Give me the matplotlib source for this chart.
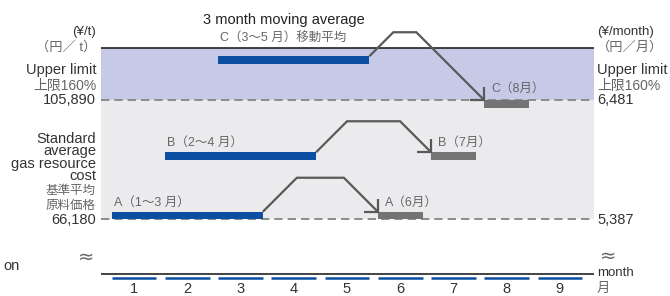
import matplotlib
matplotlib.use("Agg")
import matplotlib.pyplot as plt
import numpy as np

# ---------------- data ----------------
months = [1, 2, 3, 4, 5, 6, 7, 8, 9]
month_labels = ["1", "2", "3", "4", "5", "6", "7", "8", "9"]
ma_names = ["A", "B", "C"]
ma_start = [1, 2, 3]            # first month of 3-month window
ma_end = [3, 4, 5]              # last month of window
applied_month = [6, 7, 8]       # month the average is applied to
ma_value = [67350, 87200, 119240]        # 3-month moving average (¥/t, schematic)
applied_value = [67350, 87200, 104560]   # applied value (C capped at upper limit)
ma_labels = ["A（1～3 月）", "B（2～4 月）", "C（3～5 月）移動平均"]
applied_labels = ["A（6月）", "B（7月）", "C（8月）"]
upper_limit_t = 105890
standard_t = 66180
upper_limit_m = "6,481"
standard_m = "5,387"

# ---------------- layout / style ----------------
W, H = 670, 296
BLUE = "#0b4ea2"
GREY_BAR = "#747474"
ARROW = "#595959"
BAND_BLUE = "#c7cae6"
BAND_GREY = "#ebebee"
DASH = "#8c8c8c"
TXT = "#333333"
TXT2 = "#666666"
EN = ["Liberation Sans", "Noto Sans CJK JP", "DejaVu Sans"]
HALF = 0.42
RISE_PX = [34, 31, 24]

VPP = (upper_limit_t - standard_t) / 119.0  # value per pixel


def yv(p):
    """value at image pixel row p"""
    return standard_t + (219 - p) * VPP


fig = plt.figure(figsize=(W / 100, H / 100), dpi=100)
ax_top, ax_bot = 20, 281
ax = fig.add_axes([101 / W, 1 - ax_bot / H, (594 - 101) / W, (ax_bot - ax_top) / H])
ax.set_xlim(0.38, 9.64)
ax.set_ylim(yv(ax_bot), yv(ax_top))
for s in ax.spines.values():
    s.set_visible(False)
ax.set_yticks([])
ax.set_xticks(months)
ax.set_xticklabels(month_labels, family=EN, fontsize=10.5, color=TXT)
ax.tick_params(axis="x", length=0, pad=0.5)

chart_top = yv(48)
axis_base = yv(274)
BAR_H = 7.5 * VPP

# shading
ax.axhspan(standard_t, chart_top, color=BAND_GREY, lw=0, zorder=0)
ax.axhspan(upper_limit_t, chart_top, color=BAND_BLUE, lw=0, zorder=0.5)
ax.axhline(chart_top, color="#222222", lw=1.2, zorder=3)
ax.axhline(axis_base, color="#222222", lw=1.2, zorder=3)
lw_d = 1.4
for v in (upper_limit_t, standard_t):
    ax.axhline(v, color=DASH, lw=lw_d, ls=(0, (6 / lw_d, 3.6 / lw_d)), zorder=1)

# month markers under axis
ax.hlines([yv(278)] * len(months), np.array(months) - HALF, np.array(months) + HALF,
          color=BLUE, lw=1.8, zorder=3, clip_on=False)

# bars
for i in range(3):
    ax.barh(ma_value[i], (ma_end[i] + HALF) - (ma_start[i] - HALF), left=ma_start[i] - HALF,
            height=BAR_H, color=BLUE, zorder=4)
    ax.barh(applied_value[i], 2 * HALF, left=applied_month[i] - HALF,
            height=BAR_H, color=GREY_BAR, zorder=4)

# arrows (45-degree polylines in display space)
fig.canvas.draw()
to_d = ax.transData.transform
to_v = ax.transData.inverted().transform
for i in range(3):
    sx, sy = to_d((ma_end[i] + HALF, ma_value[i] + BAR_H / 2))
    tx, ty = to_d((applied_month[i] - HALF, applied_value[i] + BAR_H / 2))
    py = sy + RISE_PX[i]
    pts = np.array([[sx, sy], [sx + RISE_PX[i], py], [tx - (py - ty), py], [tx, ty]])
    d = to_v(pts)
    ax.plot(d[:, 0], d[:, 1], color=ARROW, lw=1.6, zorder=5, clip_on=False,
            solid_joinstyle="miter", solid_capstyle="butt")
    head = to_v(np.array([[tx, ty + 13], [tx, ty], [tx - 14, ty]]))
    ax.plot(head[:, 0], head[:, 1], color=ARROW, lw=1.6, zorder=5, clip_on=False,
            solid_joinstyle="miter", solid_capstyle="butt")

# bar labels
for i in range(3):
    off = 18 if i == 2 else 9
    ax.annotate(ma_labels[i], (ma_start[i] - HALF, ma_value[i] + BAR_H / 2),
                xytext=(2, off), textcoords="offset pixels", ha="left", va="center",
                family=EN, fontsize=9, color=TXT2, zorder=6)
    off2 = 11 if i == 2 else 9
    ax.annotate(applied_labels[i], (applied_month[i] - HALF, applied_value[i] + BAR_H / 2),
                xytext=(7, off2), textcoords="offset pixels", ha="left", va="center",
                family=EN, fontsize=9, color=TXT2, zorder=6)

ax.annotate("3 month moving average", (ma_start[2] - HALF, ma_value[2] + BAR_H / 2),
            xytext=(66, 36), textcoords="offset pixels", ha="center", va="center",
            family=EN, fontsize=10.5, color="#222222")


def ftxt(x, y, s, ha="right", va="center", size=10, color=TXT, family=EN, **kw):
    fig.text(x / W, 1 - y / H, s, ha=ha, va=va, fontsize=size, color=color, family=family, **kw)


# left side labels
lx = 96
ftxt(lx, 32, "(¥/t)", size=9.5)
ftxt(lx, 47, "（円／ t）", size=9.5, color=TXT2)
ftxt(lx, 74, "Upper limit", va="baseline", size=10.5)
ftxt(lx, 86, "上限160%", size=10, color=TXT2)
ftxt(lx, 100, f"{upper_limit_t:,}", size=10.5)
ftxt(lx, 180, "Standard\naverage\ngas resource\ncost", va="baseline", size=10.5,
     multialignment="right", linespacing=0.86)
ftxt(lx, 191, "基準平均", size=9, color=TXT2)
ftxt(lx, 206, "原料価格", size=9, color=TXT2)
ftxt(lx, 220, f"{standard_t:,}", size=10.5)
ftxt(86, 257, "≈", ha="center", size=14, color=TXT2, family=["DejaVu Sans"])
ftxt(20, 266, "on", size=10.5)

# right side labels
rx = 597
ftxt(rx, 32, "(¥/month)", ha="left", size=9.5)
ftxt(rx, 47, "（円／月）", ha="left", size=9.5, color=TXT2)
ftxt(rx, 74, "Upper limit", ha="left", va="baseline", size=10.5)
ftxt(rx, 86, "上限160%", ha="left", size=10, color=TXT2)
ftxt(rx, 100, upper_limit_m, ha="left", size=10.5)
ftxt(rx, 220, standard_m, ha="left", size=10.5)
ftxt(608, 256, "≈", ha="center", size=14, color=TXT2, family=["DejaVu Sans"])
ftxt(rx, 273, "month", ha="left", size=9.5)
ftxt(rx, 289, "月", ha="left", size=9.5, color=TXT2)

fig.savefig("out.png", dpi=100)
